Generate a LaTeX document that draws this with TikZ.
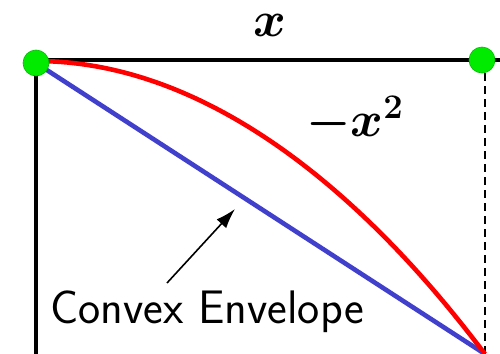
\documentclass[tikz,border=0pt]{standalone}
\usepackage{amsmath,amssymb,bm}
\usepackage{tikz}
\usetikzlibrary{arrows.meta,positioning}
\definecolor{envBlue}{RGB}{64,64,204}
\definecolor{dotGreen}{RGB}{0,235,0}

\begin{document}
\begin{tikzpicture}[x=0.5pt, y=-0.5pt]
  \useasboundingbox (0,0) rectangle (500,354);
  \coordinate (topEnd) at (500,60);
  \coordinate (leftEnd) at (36,354);
  \coordinate (lo) at (485,354);
  \coordinate (tail) at (167,283);
  \coordinate (tip) at (235,209);
  \draw[line width=1.6pt] (36,60) -- (topEnd);
  \draw[line width=1.6pt] (36,60) -- (leftEnd);
  \draw[line width=0.7pt, dash pattern=on 4pt off 2.5pt] (485,60) -- (lo);
  \draw[envBlue, line width=2.3pt] (36,63) -- (lo);
  \draw[red, line width=2.3pt] (36,61) parabola (lo);
  \node[draw=dotGreen!80!black, circle, fill=dotGreen, minimum size=13pt, inner sep=0pt, line width=0.3pt] (lft) at (36,63) {};
  \node[draw=dotGreen!80!black, circle, fill=dotGreen, minimum size=13pt, inner sep=0pt, line width=0.3pt] (rgt) at (482,60) {};
  \node[font=\fontsize{25}{30}\selectfont, inner sep=0pt] (xlab) at (270,25) {$\bm{x}$};
  \node[font=\fontsize{25}{30}\selectfont, inner sep=0pt] (flab) at (355,120) {$\bm{-x^2}$};
  \node[font=\fontsize{23.5}{28}\sffamily, inner sep=0pt] (envlab) at (207,312) {Convex Envelope};
  \draw[-{Latex[length=10pt,width=6.5pt]}, line width=0.8pt] (tail) -- (tip);
\end{tikzpicture}
\end{document}
